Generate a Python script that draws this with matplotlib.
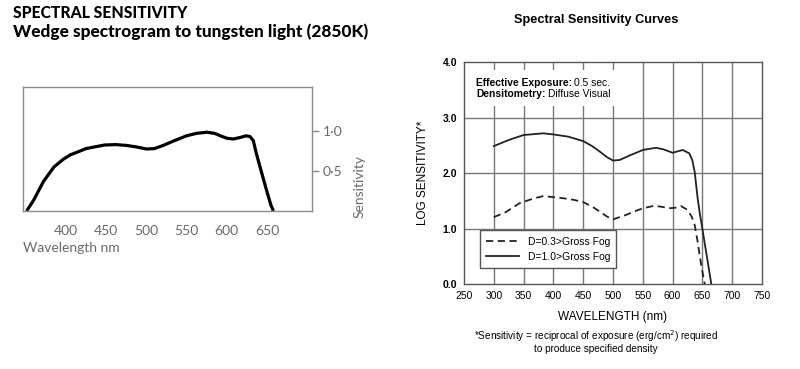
import matplotlib
matplotlib.use('Agg')
import matplotlib.pyplot as plt
from matplotlib.patches import Rectangle

# left panel: wedge spectrogram
wedge_nm = [351, 360, 372, 385, 397, 405, 415, 425, 435, 448, 462, 475, 488, 500,
            510, 521, 535, 550, 562, 575, 585, 592, 600, 608, 617, 624, 629, 633,
            636, 640, 645, 650, 655, 658]
wedge_sens = [0.0, 0.14, 0.37, 0.55, 0.65, 0.70, 0.74, 0.78, 0.80, 0.825, 0.83, 0.82, 0.80, 0.775,
              0.78, 0.82, 0.88, 0.94, 0.97, 0.985, 0.97, 0.94, 0.91, 0.90, 0.92, 0.94, 0.93, 0.88,
              0.75, 0.60, 0.42, 0.24, 0.07, 0.0]
left_xticks = [400, 450, 500, 550, 600, 650]
left_yticks = [0.5, 1.0]
left_ylabels = ['0·5', '1·0']

# right panel: log sensitivity curves
solid_nm = [300, 325, 350, 383, 400, 425, 450, 465, 478, 490, 500, 511, 530, 550, 572,
            585, 600, 610, 617, 628, 633, 637, 642, 646, 650, 654, 658, 662, 665]
solid_logs = [2.49, 2.60, 2.69, 2.72, 2.70, 2.66, 2.58, 2.49, 2.39, 2.29, 2.23, 2.24, 2.33, 2.42, 2.46,
              2.43, 2.37, 2.40, 2.42, 2.36, 2.24, 2.03, 1.55, 1.25, 1.00, 0.73, 0.47, 0.20, 0.0]
dash_nm = [300, 320, 343, 365, 383, 400, 417, 435, 450, 465, 478, 490, 500, 511, 522,
           535, 550, 567, 580, 594, 605, 614, 625, 632, 637, 642, 645, 648, 651, 654]
dash_logs = [1.21, 1.30, 1.46, 1.54, 1.59, 1.57, 1.55, 1.52, 1.48, 1.40, 1.31, 1.22, 1.17, 1.21, 1.25,
             1.31, 1.37, 1.41, 1.40, 1.37, 1.38, 1.41, 1.34, 1.22, 1.07, 0.77, 0.55, 0.35, 0.17, 0.0]
right_xticks = list(range(250, 751, 50))
right_yticks = [0.0, 1.0, 2.0, 3.0, 4.0]
info_keys = ['Effective Exposure:', 'Densitometry:']
info_vals = ['0.5 sec.', 'Diffuse Visual']

fig = plt.figure(figsize=(8, 3.69), dpi=100)

gray = '#6a6a6a'
futura = 'Lato'
helv = 'Liberation Sans'

# ---------- left chart ----------
fig.text(13 / 800, 1 - 13 / 369, 'SPECTRAL SENSITIVITY', fontfamily=futura, fontweight='black',
         fontsize=11.3, va='center', ha='left', color='black')
fig.text(13 / 800, 1 - 32 / 369, 'Wedge spectrogram to tungsten light (2850K)', fontfamily=futura,
         fontweight='black', fontsize=12.4, va='center', ha='left', color='black')

ax1 = fig.add_axes([23 / 800, 1 - 211 / 369, 289 / 800, 124 / 369])
ax1.plot(wedge_nm, wedge_sens, color='black', lw=2.3, solid_capstyle='butt')
ax1.set_xlim(346.5, 706)
ax1.set_ylim(0, 1.55)
for s in ax1.spines.values():
    s.set_color('#8a8a8a')
    s.set_linewidth(1.0)
ax1.set_xticks(left_xticks)
ax1.set_xticklabels([str(v) for v in left_xticks], fontfamily=futura, fontsize=10, color=gray)
ax1.tick_params(axis='x', length=0, pad=10)
ax1.yaxis.tick_right()
ax1.set_yticks(left_yticks)
ax1.set_yticklabels(left_ylabels, fontfamily=futura, fontsize=10, color=gray)
ax1.tick_params(axis='y', length=5, width=1, color='#8a8a8a', pad=3)
ax1.text(1.165, 0.2, 'Sensitivity', transform=ax1.transAxes, rotation=90, fontfamily=futura,
         fontsize=10, color=gray, ha='center', va='center')
fig.text(23 / 800, 1 - 248 / 369, 'Wavelength nm', fontfamily=futura, fontsize=10, color=gray,
         ha='left', va='center')

# ---------- right chart ----------
ax2 = fig.add_axes([464 / 800, 1 - 284.3 / 369, 298 / 800, 222 / 369])
ax2.set_xlim(250, 750)
ax2.set_ylim(0, 4)
for v in right_xticks[1:-1]:
    ax2.axvline(v, color='#777777', lw=1.0, zorder=1)
for v in right_yticks[1:-1]:
    ax2.axhline(v, color='#777777', lw=1.0, zorder=1)
for s in ax2.spines.values():
    s.set_color('#555555')
    s.set_linewidth(1.0)
ax2.set_xticks(right_xticks)
ax2.set_xticklabels([str(v) for v in right_xticks], fontfamily=helv, fontsize=7.5)
ax2.set_yticks(right_yticks)
ax2.set_yticklabels(['%.1f' % v for v in right_yticks], fontfamily=helv, fontsize=7.5,
                    fontweight='bold')
ax2.tick_params(length=0, pad=5)

ax2.plot(dash_nm, dash_logs, color='#222222', lw=1.3, ls=(0, (4, 2.5)), zorder=3,
         label='D=0.3>Gross Fog')
ax2.plot(solid_nm, solid_logs, color='#222222', lw=1.3, zorder=3, label='D=1.0>Gross Fog')

leg = ax2.legend(loc='lower left', bbox_to_anchor=(0.035, 0.05), fancybox=False, framealpha=1,
                 edgecolor='#555555', prop={'family': helv, 'size': 7.5},
                 handlelength=3.2, borderpad=0.6, labelspacing=0.5)
leg.get_frame().set_linewidth(1.0)
leg.set_zorder(5)

# white block behind the exposure note
ax2.add_patch(Rectangle((0.01, 0.805), 0.545, 0.16, transform=ax2.transAxes,
                        facecolor='white', edgecolor='none', zorder=2))
for i, (k, val) in enumerate(zip(info_keys, info_vals)):
    tk = ax2.text(0.04, 0.895 - i * 0.052, k, transform=ax2.transAxes, fontfamily=helv,
                  fontsize=7.4, fontweight='bold', va='baseline', ha='left', zorder=4)
    ax2.annotate(val, xy=(1, 0), xycoords=tk, xytext=(1.5, 0), textcoords='offset points',
                 fontfamily=helv, fontsize=7.4, va='bottom', ha='left', zorder=4)

ax2.set_xlabel('WAVELENGTH (nm)', fontfamily=helv, fontsize=8.5, labelpad=7)
ax2.set_ylabel('LOG SENSITIVITY*', fontfamily=helv, fontsize=8.5, labelpad=10)

fig.text(596 / 800, 1 - 20 / 369, 'Spectral Sensitivity Curves', fontfamily=helv,
         fontweight='bold', fontsize=9.2, ha='center', va='center')
fig.text(596 / 800, 1 - 336 / 369, '*Sensitivity = reciprocal of exposure (erg/cm$^2$) required',
         fontfamily=helv, fontsize=7.2, ha='center', va='center')
fig.text(596 / 800, 1 - 349 / 369, 'to produce specified density',
         fontfamily=helv, fontsize=7.2, ha='center', va='center')

fig.savefig('out.png', dpi=100)
